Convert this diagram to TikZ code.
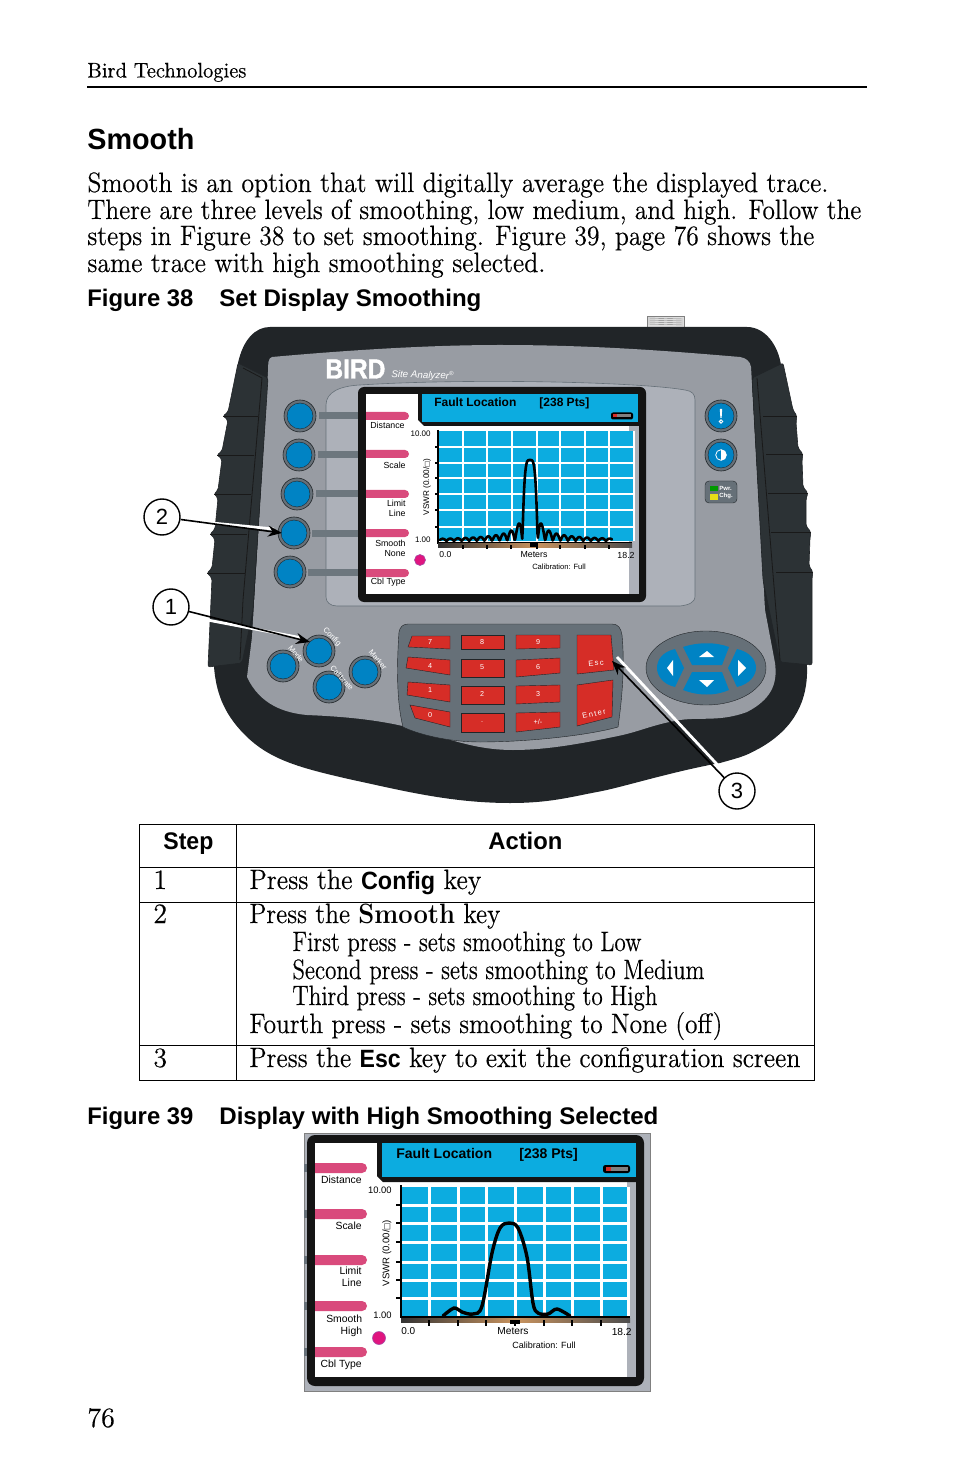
\documentclass[tikz,border=0pt]{standalone}
\usepackage{graphicx}
\usepackage{fontspec}
\setmainfont{Latin Modern Roman}[FakeBold=0.35,BoldFeatures={FakeBold=0}]
\setsansfont{Liberation Sans}
\newfontfamily\symfont{DejaVu Sans}
\usetikzlibrary{arrows.meta}
\definecolor{bodydark}{HTML}{212528}
\definecolor{gripdark}{HTML}{2C3235}
\definecolor{facegray}{HTML}{989CA3}
\definecolor{panelgray}{HTML}{ADB1B9}
\definecolor{keygray}{HTML}{667078}
\definecolor{keyblue}{HTML}{0083C4}
\definecolor{scrblue}{HTML}{0CACE0}
\definecolor{softpink}{HTML}{D94A7C}
\definecolor{keyred}{HTML}{D62D27}
\definecolor{dotpink}{HTML}{E0157F}
\definecolor{axistan}{HTML}{C8935F}
\newlength\pxu
\setlength\pxu{0.5pt}
\newcommand{\fsz}[1]{\fontsize{#1}{#1}\selectfont}
\newcommand{\fitw}[2]{\resizebox{#1\pxu}{\height}{#2}}
\newcommand{\roundkey}[2]{%
  \fill[keygray,draw=bodydark,line width=.3pt] (#1,#2) circle (16);
  \fill[keyblue,draw=bodydark,line width=.2pt] (#1,#2) circle (13);}
\tikzset{
  declare function={
    sincpart(\u)=abs(sin(180*\u)/(pi*\u));
    capped(\u)=min(\u*\u,1);
    trace(\u)=(abs(\u)<1 ? 1-capped(\u)*capped(\u) : sincpart(\u));
  },
  pagetext/.style={anchor=base west,inner sep=0pt,font=\fsz{14}},
  headtext/.style={anchor=base west,inner sep=0pt,font=\sffamily\bfseries\fsz{12}},
  softlabel/.style={anchor=east,inner sep=0pt,align=right,font=\sffamily\fsz{4.4}},
  softlabelb/.style={anchor=east,inner sep=0pt,align=right,font=\sffamily\fsz{5.2}},
  padlabel/.style={inner sep=0pt,text=white,font=\sffamily\fsz{3.6}},
  rotlabel/.style={inner sep=0pt,text=white,font=\sffamily\fsz{3.8}},
  gripline/.style={draw=black!90,line width=.4pt},
  callout/.style={circle,draw=black,fill=white,line width=.7pt,minimum size=36\pxu,inner sep=0pt,font=\sffamily\fsz{11}},
  callshadow/.style={draw=white,line width=1.4pt},
  callarrow/.style={draw=black,line width=.8pt,-{Stealth[length=7pt,width=5.5pt]}},
  gridline/.style={draw=white,line width=1pt},
  gridlineb/.style={draw=white,line width=1.5pt}
}
\begin{document}
\begin{tikzpicture}[x=0.5pt,y=-0.5pt]
\useasboundingbox (0,0) rectangle (954,1475);
% page head
\node[pagetext,font=\fsz{10.6}] (head) at (87,77.5) {\fitw{159}{Bird Technologies}};
\draw[line width=1pt] (87,87) -- (867,87);
\node[headtext,font=\sffamily\bfseries\fsz{14.6}] (title) at (87,150) {\fitw{107}{Smooth}};
\node[pagetext] (lineone) at (87,192) {\fitw{741}{Smooth is an option that will digitally average the displayed trace.}};
\node[pagetext] (linetwo) at (87,219) {\fitw{774}{There are three levels of smoothing, low medium, and high. Follow the}};
\node[pagetext] (linethree) at (87,245) {\fitw{727}{steps in Figure 38 to set smoothing. Figure 39, page 76 shows the}};
\node[pagetext] (linefour) at (87,272) {\fitw{458}{same trace with high smoothing selected.}};
\node[headtext] (figa) at (87,307) {\fitw{106}{Figure 38}};
\node[headtext] (figatitle) at (219,307) {\fitw{262}{Set Display Smoothing}};
% connector on top
\fill[gray!25,draw=gray,line width=.3pt] (647,316) rectangle (684,327);
\foreach \cy in {318,320,322,324}
  \draw[gray,line width=.2pt] (648,\cy) -- (683,\cy+1);
% case
\fill[bodydark] (270,327) -- (747,327) .. controls (765,327) and (778,345) .. (781,365)
  -- (807,667) .. controls (808,700) and (795,728) .. (760,748) .. controls (745,756) .. (720,763)
  .. controls (670,772) and (620,788) .. (597,792) .. controls (570,797) and (550,803) .. (510,803)
  .. controls (450,803) and (400,790) .. (353,780) .. controls (300,768) and (270,760) .. (245,735)
  .. controls (222,712) and (216,690) .. (214,667) -- (238,363)
  .. controls (243,340) and (255,327) .. (270,327) -- cycle;
\fill[facegray] (272,357) .. controls (350,350) and (430,345) .. (500,345)
  .. controls (600,345) and (680,352) .. (740,357) .. controls (746,358) and (750,361) .. (751,367)
  -- (765,610) -- (775,663) .. controls (778,685) and (770,700) .. (747,712)
  .. controls (720,722) and (700,717) .. (680,720) .. controls (650,725) and (640,732) .. (613,737)
  .. controls (570,746) and (540,750) .. (513,750) .. controls (470,750) and (440,735) .. (407,727)
  .. controls (370,718) and (330,716) .. (307,715) .. controls (285,713) and (260,705) .. (247,677)
  -- (252,637) -- (268,372) .. controls (268,364) and (268,358) .. (272,357) -- cycle;
% left grip
\fill[gripdark,draw=bodydark,line width=.3pt,rounded corners=1pt] (238,363) -- (268,378) -- (253,610) -- (242,663) -- (208,667)
  -- (212,578) -- (207,573) -- (212,568) -- (215,539) -- (210,534) -- (215,529)
  -- (218,498) -- (214,494) -- (218,490) -- (222,459) -- (217,455) -- (222,451)
  -- (228,420) -- (223,416) -- (228,412) -- cycle;
\foreach \cx/\cy/\dx in {223/416/258,217/455/254,214/494/251,210/534/247,207/573/245}
  \draw[gripline] (\cx,\cy) -- (\dx,\cy);
\draw[gripline] (243,368) -- (262,378) -- (243,600) -- (240,660);
% right grip
\fill[gripdark,draw=bodydark,line width=.3pt,rounded corners=1pt] (783,363) -- (752,378) -- (763,580) -- (780,662) -- (812,665)
  -- (812,578) -- (813,572) -- (809,566) -- (810,538) -- (811,532) -- (806,526)
  -- (806,499) -- (808,493) -- (803,487) -- (802,460) -- (803,454) -- (798,448)
  -- (796,422) -- (797,416) -- (793,410) -- cycle;
\foreach \cx/\cy/\dx in {797/416/763,803/454/766,808/493/768,811/532/771,813/572/776}
  \draw[gripline] (\cx,\cy) -- (\dx,\cy);
\draw[gripline] (757,378) -- (780,660);
% panel round the screen
\fill[panelgray,draw=keygray,line width=.3pt] (326,405) .. controls (326,392) and (340,386) .. (360,385)
  .. controls (470,378) and (640,382) .. (685,390) .. controls (692,391) and (695,394) .. (695,400)
  -- (695,596) .. controls (695,603) and (688,605) .. (680,606) -- (337,606)
  .. controls (330,606) and (326,602) .. (326,597) -- cycle;
% soft keys with their stems
\foreach \cx/\cy/\sx in {300/416/319,299/455/318,297/494/316,294/533/312,290/572/308}{
  \fill[keygray!85!facegray] (\sx,\cy-3.5) rectangle (358,\cy+3.5);
  \roundkey{\cx}{\cy}
}
% screen of figure 38
\fill[black!92,rounded corners=3pt] (358,387) rectangle (646,602);
\fill[white] (366,394) rectangle (629,594);
\fill[panelgray] (629,426) rectangle (639,594);
\fill[black!92] (418,394) -- (639,394) -- (639,426) -- (424,426) -- (418,420) -- cycle;
\fill[scrblue] (422,394) rectangle (638,422);
\foreach \cy in {416,454,494,533,573}
  \fill[softpink,shift={(0,\cy)}] (366,-4) [rounded corners=2pt] -- (409,-4) -- (409,4) [sharp corners] -- (366,4) -- cycle;
\node[softlabel] (distance) at (405,425) {Distance};
\node[softlabel] (scale) at (406,465) {Scale};
\node[softlabel] (limit) at (406,508) {Limit\\[.6pt]Line};
\node[softlabel] (smooth) at (406,548.5) {Smooth\\[.6pt]None};
\node[softlabel] (cbl) at (406,582.5) {Cbl Type};
\fill[dotpink,draw=violet!70,line width=.3pt] (420,560) circle (5.5);
\node[inner sep=0pt,anchor=base west,font=\sffamily\bfseries\fsz{6}] (fault) at (434,406.5) {Fault Location};
\node[inner sep=0pt,anchor=base west,font=\sffamily\bfseries\fsz{6}] (pts) at (539,406.5) {[238 Pts]};
\fill[black,rounded corners=1pt] (611,412.5) rectangle (633,419.5);
\fill[gray] (614,414.5) rectangle (631,417.5);
\fill[keyred] (613,414.5) rectangle (617,417.5);
% plot
\fill[scrblue] (439,431) rectangle (634,541);
\foreach \gx in {463,487,512,537,560,585,609,634}
  \draw[gridline] (\gx,431) -- (\gx,541);
\foreach \gy in {447,463,478,494,510,527}
  \draw[gridline] (439,\gy) -- (634,\gy);
\draw[black,line width=1.3pt,line cap=round,line join=round] plot[domain=440:612,samples=340]
  (\x,{541-81*trace((\x-530.01)/7.6)});
\draw[black,line width=1pt] (438,430) -- (438,543) -- (632,543);
\shade[left color=black!80,right color=black!70,middle color=axistan] (438,543.5) rectangle (632,547);
\foreach \gy in {447,463,478,494,510,527}
  \draw[black,line width=.9pt] (435,\gy) -- (438,\gy);
\foreach \gx in {463,487,511,537,560,585,609}
  \draw[black,line width=.9pt] (\gx,545) -- (\gx,549);
\draw[black,line width=1.6pt] (530,545) -- (538,545);
\node[anchor=east,inner sep=0pt,font=\sffamily\fsz{4}] (ymax) at (431,433.5) {10.00};
\node[anchor=east,inner sep=0pt,font=\sffamily\fsz{4}] (ymin) at (431,539.5) {1.00};
\node[anchor=west,inner sep=0pt,font=\sffamily\fsz{4.3}] (xmin) at (439,555) {0.0};
\node[inner sep=0pt,font=\sffamily\fsz{4.4}] (meters) at (534,555) {Meters};
\node[anchor=east,inner sep=0pt,font=\sffamily\fsz{4.4}] (xmax) at (635,555) {18.2};
\node[inner sep=0pt,font=\sffamily\fsz{3.8}] (calib) at (559,566.5) {Calibration: Full};
\node[inner sep=0pt,rotate=90,font=\sffamily\fsz{4.1}] (vswr) at (427,487) {VSWR (0.00/{\symfont\fsz{3.2}□})};
% logo
\node[inner sep=0pt,anchor=west,text=white] (logo) at (325,369) {\resizebox{60\pxu}{19\pxu}{\sffamily\bfseries\addfontfeature{FakeBold=1.5}BIRD}};
\node[inner sep=0pt,anchor=west,text=white,rotate=-2,font=\sffamily\itshape\fsz{4.9}] (site) at (391,374) {Site Analyzer\textsuperscript{\fsz{3}®}};
% right keys
\roundkey{721}{416}
\roundkey{721}{455}
\fill[white] (719.8,409) -- (722.2,409) -- (721.6,418) -- (720.4,418) -- cycle;
\draw[white,line width=.5pt] (721,421.5) circle (1.7);
\fill[white] (721,449.5) arc (-90:90:5.5) -- cycle;
\draw[white,line width=.4pt] (721,455) circle (5.3);
\fill[keygray,draw=bodydark,line width=.2pt,rounded corners=2pt] (705,481) rectangle (737,503);
\fill[green!60!black] (710,486) rectangle (718,491);
\fill[yellow!90!black] (710,494) rectangle (718,500);
\node[anchor=west,inner sep=0pt,text=white,font=\sffamily\bfseries\fsz{3}] (pwr) at (719,488) {Pwr.};
\node[anchor=west,inner sep=0pt,text=white,font=\sffamily\bfseries\fsz{3}] (chg) at (719,496) {Chg.};
% lower keys
\foreach \cx/\cy in {319/651,283/666,329/687,365/672}{
  \roundkey{\cx}{\cy}
}
\node[rotlabel,rotate=-45] (config) at (332,637) {Config};
\node[rotlabel,rotate=-50] (mode) at (296,654) {Mode};
\node[rotlabel,rotate=-48] (calibrate) at (342,678) {Calibrate};
\node[rotlabel,rotate=-50] (marker) at (378,660) {Marker};
% key pad
\fill[keygray,draw=bodydark,line width=.2pt] (408,624) -- (612,624) .. controls (618,624) and (621,628) .. (622,635)
  .. controls (625,665) and (622,700) .. (618,727) .. controls (590,735) and (530,742) .. (480,742)
  .. controls (450,742) and (420,735) .. (403,727) .. controls (396,700) and (397,660) .. (399,632)
  .. controls (400,627) and (403,624) .. (408,624) -- cycle;
\foreach \ax/\ay/\bx/\by/\cx/\cy/\dx/\dy in {
  412/636/450/636/450/649/408/647, 408/657/450/660/450/675/406/668,
  408/682/450/685/450/702/407/695, 410/705/450/712/450/727/415/718,
  461/635/504/635/504/649/461/649, 461/659/504/659/504/677/461/677,
  461/686/504/686/504/704/461/704, 461/713/504/713/504/732/461/732,
  516/635/560/635/560/648/516/649, 516/660/560/658/560/673/516/677,
  516/686/560/685/560/702/516/704, 516/713/560/712/560/727/516/732,
  577/635/611/635/614/670/577/674, 577/685/613/680/612/717/577/726}
  \fill[keyred,draw=bodydark,line width=.2pt] (\ax,\ay) -- (\bx,\by) -- (\cx,\cy) -- (\dx,\dy) -- cycle;
\foreach \lx/\ly/\ltxt/\lname in {430/642/7/kseven,482/642/8/keight,538/642/9/knine,
  430/666/4/kfour,482/667/5/kfive,538/667/6/ksix,
  430/690/1/kone,482/694/2/ktwo,538/694/3/kthree,
  430/715/0/kzero,482/722/./kdot,538/722/{+/-}/ksign}
  \node[padlabel] (\lname) at (\lx,\ly) {\ltxt};
\node[padlabel,rotate=5,font=\sffamily\fsz{3.8}\addfontfeature{LetterSpace=18}] (esc) at (596,663) {Esc};
\node[padlabel,rotate=12,font=\sffamily\fsz{3.8}\addfontfeature{LetterSpace=18}] (enter) at (594,714) {Enter};
% direction keys
\fill[keygray,draw=bodydark,line width=.2pt] (706,668) ellipse (60 and 37);
\fill[keyblue] (683,647) .. controls (698,642) and (716,642) .. (729,647) -- (722,665) -- (692,665) -- cycle;
\fill[keyblue] (692,672) -- (722,672) -- (729,690) .. controls (716,696) and (698,696) .. (683,690) -- cycle;
\fill[keyblue] (675,649) -- (684,668) -- (675,687) .. controls (662,684) and (657,675) .. (657,668) .. controls (657,660) and (662,652) .. (675,649) -- cycle;
\fill[keyblue] (737,649) -- (728,668) -- (737,687) .. controls (750,684) and (756,675) .. (756,668) .. controls (756,660) and (750,652) .. (737,649) -- cycle;
\fill[white] (699,657) -- (707,651) -- (714,657) -- cycle;
\fill[white] (699,680) -- (714,680) -- (707,687) -- cycle;
\fill[white] (667,668) -- (673,660) -- (673,676) -- cycle;
\fill[white] (746,668) -- (738,660) -- (738,676) -- cycle;
% callouts
\node[callout] (two) at (162,517) {2};
\node[callout] (one) at (171,607) {1};
\node[callout] (three) at (737,791) {3};
\coordinate (tiptwo) at (282,533);
\coordinate (tipone) at (310,642);
\coordinate (tipthree) at (612,661);
\draw[callshadow] ([yshift=-1.5pt]two.east) -- ([shift={(-4pt,2pt)}]tiptwo);
\draw[callarrow] (two) -- (tiptwo);
\draw[callshadow] ([yshift=-1.5pt]one.-20) -- ([shift={(-4pt,2pt)}]tipone);
\draw[callarrow] (one) -- (tipone);
\draw[callshadow] ([shift={(1.5pt,1.5pt)}]three.135) -- ([shift={(2.5pt,2pt)}]tipthree);
\draw[callarrow] (three) -- (tipthree);
% table
\draw[line width=.5pt] (139.5,824) rectangle (814,1080);
\draw[line width=.5pt] (236,824) -- (236,1080);
\draw[line width=.5pt] (139.5,867) -- (814,867);
\draw[line width=.5pt] (139.5,902) -- (814,902);
\draw[line width=.5pt] (139.5,1045) -- (814,1045);
\node[headtext] (stephead) at (163,849) {\fitw{50}{Step}};
\node[headtext] (actionhead) at (488,849) {\fitw{74}{Action}};
\node[pagetext] (rowa) at (153,889) {1};
\node[pagetext] (rowatxt) at (249,889) {\fitw{232}{Press the {\sffamily\bfseries\fsz{12.5}Config} key}};
\node[pagetext] (rowb) at (153,923) {2};
\node[pagetext] (rowbtxt) at (249,923) {\fitw{251}{Press the \textbf{Smooth} key}};
\node[pagetext] (pressa) at (292,951) {\fitw{349}{First press - sets smoothing to Low}};
\node[pagetext] (pressb) at (292,979) {\fitw{412}{Second press - sets smoothing to Medium}};
\node[pagetext] (pressc) at (292,1005) {\fitw{365}{Third press - sets smoothing to High}};
\node[pagetext] (pressd) at (249,1033) {\fitw{473}{Fourth press - sets smoothing to None (off)}};
\node[pagetext] (rowc) at (153,1067) {3};
\node[pagetext] (rowctxt) at (249,1067) {\fitw{551}{Press the {\sffamily\bfseries\fsz{12.5}Esc} key to exit the configuration screen}};
\node[headtext] (figb) at (87,1124) {\fitw{106}{Figure 39}};
\node[headtext] (figbtitle) at (219,1124) {\fitw{439}{Display with High Smoothing Selected}};
% screen of figure 39
\fill[panelgray,draw=gray,line width=.2pt] (304,1133) rectangle (650,1391);
\foreach \cy in {1168,1214,1260,1306,1352}
  \fill[keygray] (304,\cy-4) rectangle (307,\cy+4);
\fill[black!92,rounded corners=4pt] (307,1135) rectangle (644,1386);
\fill[white] (315,1143) rectangle (627,1377);
\fill[panelgray] (627,1180) rectangle (636,1377);
\fill[black!92] (377,1143) -- (636,1143) -- (636,1182) -- (383,1182) -- (377,1176) -- cycle;
\fill[scrblue] (382,1143) rectangle (636,1177);
\foreach \cy in {1168,1214,1260,1306,1352}
  \fill[softpink,shift={(0,\cy)}] (315,-5) [rounded corners=2.5pt] -- (367,-5) -- (367,5) [sharp corners] -- (315,5) -- cycle;
\node[softlabelb] (distanceb) at (362,1180) {Distance};
\node[softlabelb] (scaleb) at (362,1226) {Scale};
\node[softlabelb] (limitb) at (362,1277) {Limit\\[.6pt]Line};
\node[softlabelb] (smoothb) at (362.5,1325.5) {Smooth\\[.6pt]High};
\node[softlabelb] (cblb) at (362,1364.5) {Cbl Type};
\fill[dotpink,draw=violet!70,line width=.3pt] (379,1338) circle (6.5);
\node[inner sep=0pt,anchor=base west,font=\sffamily\bfseries\fsz{7}] (faultb) at (396,1158) {Fault Location};
\node[inner sep=0pt,anchor=base west,font=\sffamily\bfseries\fsz{7}] (ptsb) at (519,1158) {[238 Pts]};
\fill[black,rounded corners=1.2pt] (603,1165) rectangle (630,1173);
\fill[gray] (607,1167) rectangle (628,1171);
\fill[keyred] (606,1167) rectangle (611,1171);
% plot
\fill[scrblue] (402,1187) rectangle (628,1316);
\foreach \gx in {429,458,486,515,544,572,601,628}
  \draw[gridlineb] (\gx,1187) -- (\gx,1316);
\foreach \gy in {1205,1223,1242,1262,1280,1298}
  \draw[gridlineb] (402,\gy) -- (628,\gy);
\draw[black,line width=1.7pt,line cap=round] plot[smooth,tension=.55] coordinates {
  (443,1316) (454,1308) (462,1312) (473,1314) (482,1306) (492,1253) (500,1228)
  (509,1223) (518,1228) (527,1257) (533,1303) (538,1313) (548,1314) (557,1309) (570,1316)};
\draw[black,line width=1.3pt] (401,1185) -- (401,1317) -- (630,1317);
\shade[left color=black!80,right color=black!70,middle color=axistan] (401,1318) rectangle (630,1322);
\foreach \gy in {1205,1223,1242,1262,1280,1298}
  \draw[black,line width=1.1pt] (396,\gy) -- (401,\gy);
\foreach \gx in {429,458,486,515,544,572,601}
  \draw[black,line width=1.1pt] (\gx,1320) -- (\gx,1326);
\draw[black,line width=2pt] (510,1322) -- (520,1322);
\node[anchor=east,inner sep=0pt,font=\sffamily\fsz{4.7}] (ymaxb) at (392,1190) {10.00};
\node[anchor=east,inner sep=0pt,font=\sffamily\fsz{4.7}] (yminb) at (392,1315) {1.00};
\node[anchor=west,inner sep=0pt,font=\sffamily\fsz{5}] (xminb) at (401,1331.5) {0.0};
\node[inner sep=0pt,font=\sffamily\fsz{5.1}] (metersb) at (513,1331.5) {Meters};
\node[anchor=east,inner sep=0pt,font=\sffamily\fsz{5.1}] (xmaxb) at (632,1331.5) {18.2};
\node[inner sep=0pt,font=\sffamily\fsz{4.5}] (calibb) at (544,1345.5) {Calibration: Full};
\node[inner sep=0pt,rotate=90,font=\sffamily\fsz{4.8}] (vswrb) at (387,1253) {VSWR (0.00/{\symfont\fsz{3.8}□})};
\node[pagetext] (pagenum) at (87,1427) {76};
\end{tikzpicture}
\end{document}
